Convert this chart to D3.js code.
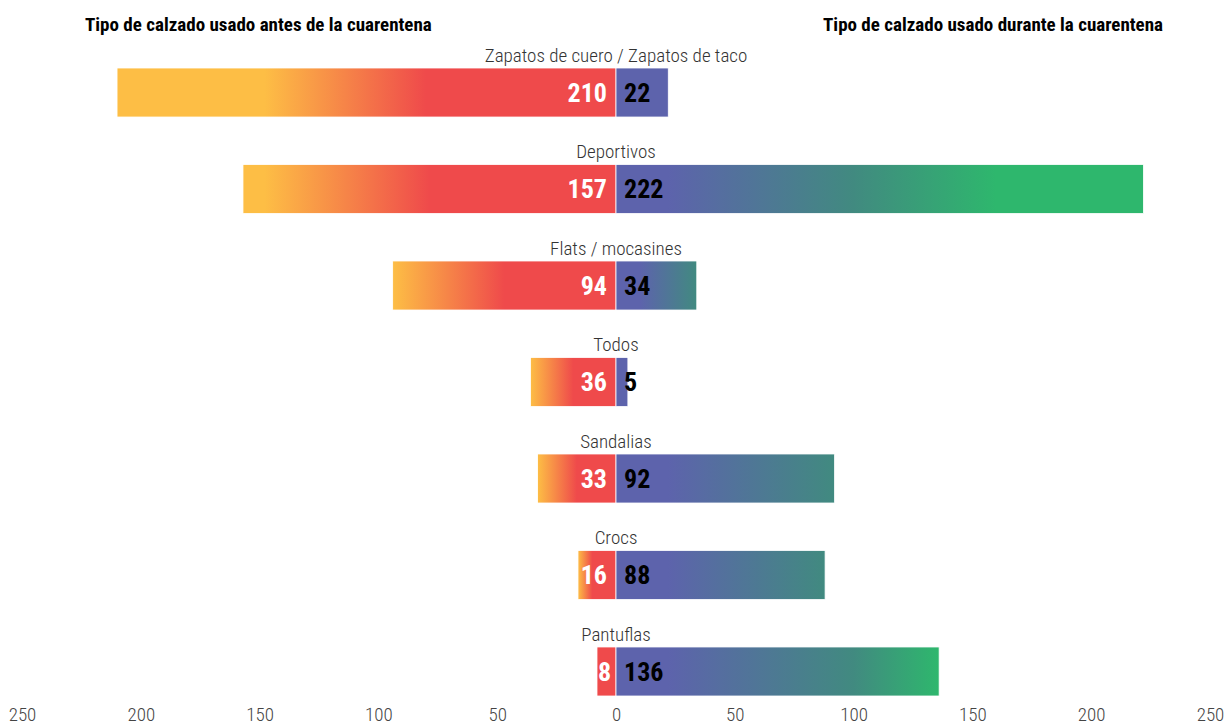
<!DOCTYPE html>
<html>
<head>
<meta charset="utf-8">
<script src="https://cdn.jsdelivr.net/npm/d3@7"></script>
<style>
    body { margin: 0; background: #fff; }
    svg text { font-family: "Roboto Condensed", "Liberation Sans Narrow", "DejaVu Sans Condensed", "Roboto", sans-serif; }
</style>
</head>
<body>
<script>
// footwear categories, top to bottom
var categories = ["Zapatos de cuero / Zapatos de taco", "Deportivos", "Flats / mocasines",
    "Todos", "Sandalias", "Crocs", "Pantuflas"];
// counts before and during the quarantine
var antes = [210, 157, 94, 36, 33, 16, 8];
var durante = [22, 222, 34, 5, 92, 88, 136];
var tickValues = [-250, -200, -150, -100, -50, 0, 50, 100, 150, 200, 250];
var tituloAntes = "Tipo de calzado usado antes de la cuarentena";
var tituloDurante = "Tipo de calzado usado durante la cuarentena";

window.onload = drawChart();

function drawChart() {
    var width = 1224,
        height = 724;

    var svg = d3.select("body")
        .append("svg")
        .attr("width", width)
        .attr("height", height);

    var x = d3.scaleLinear()
        .domain([-250, 250])
        .range([22, 1210]);

    var y = d3.scaleBand()
        .domain(categories)
        .range([68, 696])
        .paddingInner(0.492)
        .paddingOuter(0);

    var red = "#ef4a4b", yellow = "#fdbe45",
        purple = "#5d63ac", teal = "#418a80", green = "#2eb76d";

    var defs = svg.append("defs");

    // gradient stops in data units, turned into offsets along each bar
    function leftStops(v) {
        var redEnd = Math.min(80, Math.max(10, v * 0.5));
        if (v <= redEnd) return [[0, red], [1, red]];
        return [[0, red], [redEnd / v, red], [Math.min(v, 148) / v, yellow]];
    }
    function rightStops(v) {
        if (v <= 24) return [[0, purple], [1, purple]];
        var s = [[0, purple], [Math.min(22, v * 0.3) / v, purple], [Math.min(v, 100) / v, teal]];
        if (v > 100) s.push([Math.min(v, 160) / v, green]);
        return s;
    }

    function addGradient(id, stops, leftward) {
        var g = defs.append("linearGradient")
            .attr("id", id)
            .attr("x1", leftward ? 1 : 0)
            .attr("x2", leftward ? 0 : 1)
            .attr("y1", 0)
            .attr("y2", 0);
        g.selectAll("stop")
            .data(stops)
            .enter()
            .append("stop")
            .attr("offset", function(d){ return d[0]; })
            .attr("stop-color", function(d){ return d[1]; });
    }

    categories.forEach(function(c, i){
        addGradient("gl" + i, leftStops(antes[i]), true);
        addGradient("gr" + i, rightStops(durante[i]), false);
    });

    var rows = svg.selectAll(".row")
        .data(categories)
        .enter()
        .append("g")
        .attr("class", "row")
        .attr("transform", function(d){ return "translate(0," + y(d) + ")"; });

    // before bars (to the left)
    rows.append("rect")
        .attr("x", function(d, i){ return x(-antes[i]); })
        .attr("width", function(d, i){ return x(0) - x(-antes[i]); })
        .attr("height", y.bandwidth())
        .attr("fill", function(d, i){ return "url(#gl" + i + ")"; })
        .attr("stroke", "#fff")
        .attr("stroke-width", 0.8);

    // during bars (to the right)
    rows.append("rect")
        .attr("x", x(0))
        .attr("width", function(d, i){ return x(durante[i]) - x(0); })
        .attr("height", y.bandwidth())
        .attr("fill", function(d, i){ return "url(#gr" + i + ")"; })
        .attr("stroke", "#fff")
        .attr("stroke-width", 0.8);

    // category names
    rows.append("text")
        .attr("x", x(0))
        .attr("y", -6)
        .attr("text-anchor", "middle")
        .style("font-size", "19px")
        .style("font-weight", 300)
        .style("fill", "#333")
        .text(function(d){ return d; });

    // value labels (left ones kept inside their bar)
    rows.append("text")
        .attr("y", y.bandwidth() / 2)
        .attr("dy", "0.36em")
        .attr("text-anchor", "end")
        .style("font-size", "26px")
        .style("font-weight", "bold")
        .style("fill", "#fff")
        .text(function(d, i){ return antes[i]; })
        .attr("x", function(d, i){
            var len = this.getComputedTextLength();
            return Math.max(x(0) - 9, x(-antes[i]) + len + 1);
        });

    rows.append("text")
        .attr("x", x(0) + 8)
        .attr("y", y.bandwidth() / 2)
        .attr("dy", "0.36em")
        .style("font-size", "26px")
        .style("font-weight", "bold")
        .style("fill", "#000")
        .text(function(d, i){ return durante[i]; });

    // titles
    svg.append("text")
        .attr("x", 85)
        .attr("y", 31)
        .style("font-size", "19px")
        .style("font-weight", "bold")
        .text(tituloAntes);

    svg.append("text")
        .attr("x", 1163)
        .attr("y", 31)
        .attr("text-anchor", "end")
        .style("font-size", "19px")
        .style("font-weight", "bold")
        .text(tituloDurante);

    // bottom axis, labels only
    var axis = svg.append("g")
        .attr("class", "axis")
        .attr("transform", "translate(0,704)")
        .call(d3.axisBottom(x)
            .tickValues(tickValues)
            .tickSize(0)
            .tickFormat(function(d){ return Math.abs(d); }));

    axis.select(".domain").remove();
    axis.selectAll("text")
        .attr("y", 16.5)
        .attr("dy", null)
        .style("font-family", null)
        .style("font-size", "19px")
        .style("font-weight", 300)
        .style("fill", "#444");
}
</script>
</body>
</html>
